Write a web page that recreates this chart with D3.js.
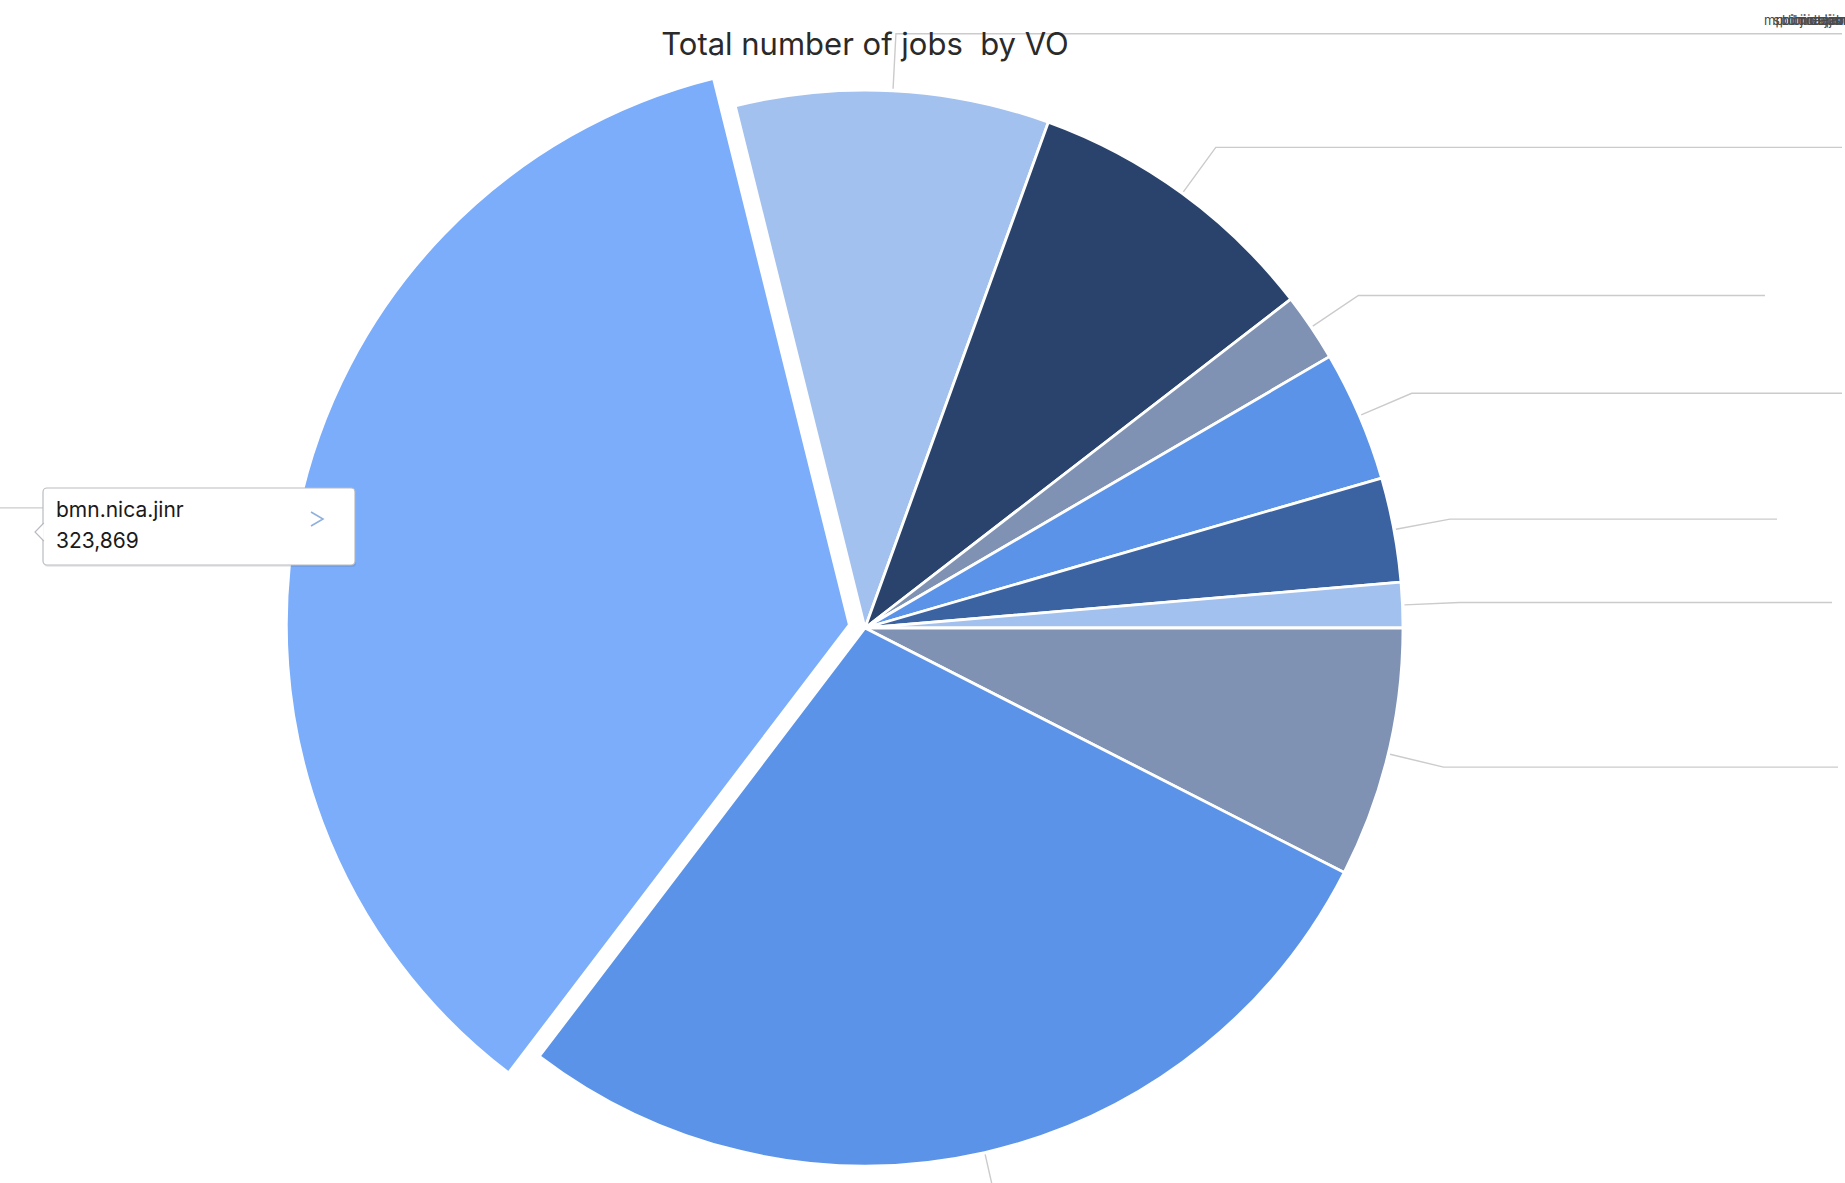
<!DOCTYPE html>
<html>
<head>
<meta charset="utf-8">
<script src="https://cdn.jsdelivr.net/npm/d3@7"></script>
<style>
  html, body { margin: 0; padding: 0; background: #fff; overflow: hidden; }
  svg { display: block; font-family: Inter, "Noto Sans", sans-serif; }
</style>
</head>
<body>
<svg id="chart" width="1845" height="1183"></svg>
<script>
// Jobs per virtual organisation
const categories = ["mpd.nica.jinr", "spd.nica.jinr", "biomed", "ilc", "jinr", "dteam", "ops", "cms", "bmn.nica.jinr"];
const jobs = [85200, 81500, 18560, 35480, 28370, 12320, 68000, 252000, 323869];
const sliceColors = ["#a3c1ee", "#29436c", "#7f92b3", "#5b93e8", "#3b62a1", "#a3c1ee", "#7f92b3", "#5b93e8", "#7badfb"];
const selectedVO = "bmn.nica.jinr";
const chartTitle = "Total number of jobs  by VO";

// Layout
const W = 1845, H = 1183;
const cx = 865, cy = 628, R = 538;
const startDeg = -13.96;
const explodeR = 563, explodeOffset = 16;
const leaderKneeR = 595;
// x where each leader line's horizontal run ends (null = no horizontal run)
const leaderEnd = [1842, 1842, 1765, 1842, 1777, 1832, 1838, null, 0];

const data = categories.map((c, i) => ({ name: c, value: jobs[i], color: sliceColors[i], end: leaderEnd[i] }));

const svg = d3.select("#chart");
const start = startDeg * Math.PI / 180;
const pie = d3.pie().sort(null).value(d => d.value).startAngle(start).endAngle(start + 2 * Math.PI);
const arcs = pie(data);
const arcBase = d3.arc().innerRadius(0).outerRadius(R);
const arcBig = d3.arc().innerRadius(0).outerRadius(explodeR);

const polar = (r, a) => [cx + r * Math.sin(a), cy - r * Math.cos(a)];

// Leader lines
const gLead = svg.append("g");
arcs.forEach(a => {
  const mid = (a.startAngle + a.endAngle) / 2;
  const p0 = polar(R + 2, mid);
  const p1 = polar(leaderKneeR, mid);
  const pts = [p0, p1];
  if (a.data.end !== null) pts.push([a.data.end, p1[1]]);
  gLead.append("path")
    .attr("d", d3.line()(pts))
    .attr("fill", "none")
    .attr("stroke", "#cbcbcb")
    .attr("stroke-width", 1.4);
});

// Slices
const gPie = svg.append("g");
arcs.forEach(a => {
  const isSel = a.data.name === selectedVO;
  const mid = (a.startAngle + a.endAngle) / 2;
  const dx = isSel ? explodeOffset * Math.sin(mid) : 0;
  const dy = isSel ? -explodeOffset * Math.cos(mid) : 0;
  gPie.append("path")
    .attr("d", (isSel ? arcBig : arcBase)(a))
    .attr("transform", `translate(${cx + dx},${cy + dy})`)
    .attr("fill", a.data.color)
    .attr("stroke", "#ffffff")
    .attr("stroke-width", 2.8)
    .attr("stroke-linejoin", "round");
});

// Title
svg.append("text")
  .attr("x", cx)
  .attr("y", 55)
  .attr("text-anchor", "middle")
  .attr("font-size", 31)
  .attr("fill", "#2a2a2a")
  .style("white-space", "pre")
  .text(chartTitle);

// Legend labels, collapsed into the top-right corner
const gLegend = svg.append("g");
categories.forEach((c, i) => {
  gLegend.append("text")
    .attr("x", 1764 + i * 9)
    .attr("y", 25)
    .attr("font-size", 13)
    .attr("fill", "#4a4a4a")
    .text(c);
});

// Tooltip for the selected slice
const sel = data.find(d => d.name === selectedVO);
const tip = svg.append("g");
const tx = 43, ty = 488, tw = 312, th = 77;
tip.append("rect")
  .attr("x", tx + 1).attr("y", ty + 2).attr("width", tw).attr("height", th)
  .attr("rx", 4).attr("fill", "rgba(0,0,0,0.08)");
tip.append("rect")
  .attr("x", tx).attr("y", ty).attr("width", tw).attr("height", th)
  .attr("rx", 4).attr("fill", "#ffffff").attr("stroke", "#b8bcc2").attr("stroke-width", 1.2);
tip.append("path")
  .attr("d", `M${tx + 0.8},${ty + 35} L${tx - 8},${ty + 44} L${tx + 0.8},${ty + 53}`)
  .attr("fill", "#ffffff").attr("stroke", "#b8bcc2").attr("stroke-width", 1.2);
tip.append("text")
  .attr("x", tx + 13).attr("y", ty + 29)
  .attr("font-size", 21).attr("fill", "#1a1a1a")
  .text(sel.name);
tip.append("text")
  .attr("x", tx + 13).attr("y", ty + 60)
  .attr("font-size", 21).attr("fill", "#1a1a1a")
  .text(d3.format(",")(sel.value));
tip.append("path")
  .attr("d", `M${tx + 268},${ty + 24} L${tx + 280},${ty + 31} L${tx + 268},${ty + 38}`)
  .attr("fill", "none").attr("stroke", "#8fb0dd").attr("stroke-width", 1.6);
</script>
</body>
</html>
